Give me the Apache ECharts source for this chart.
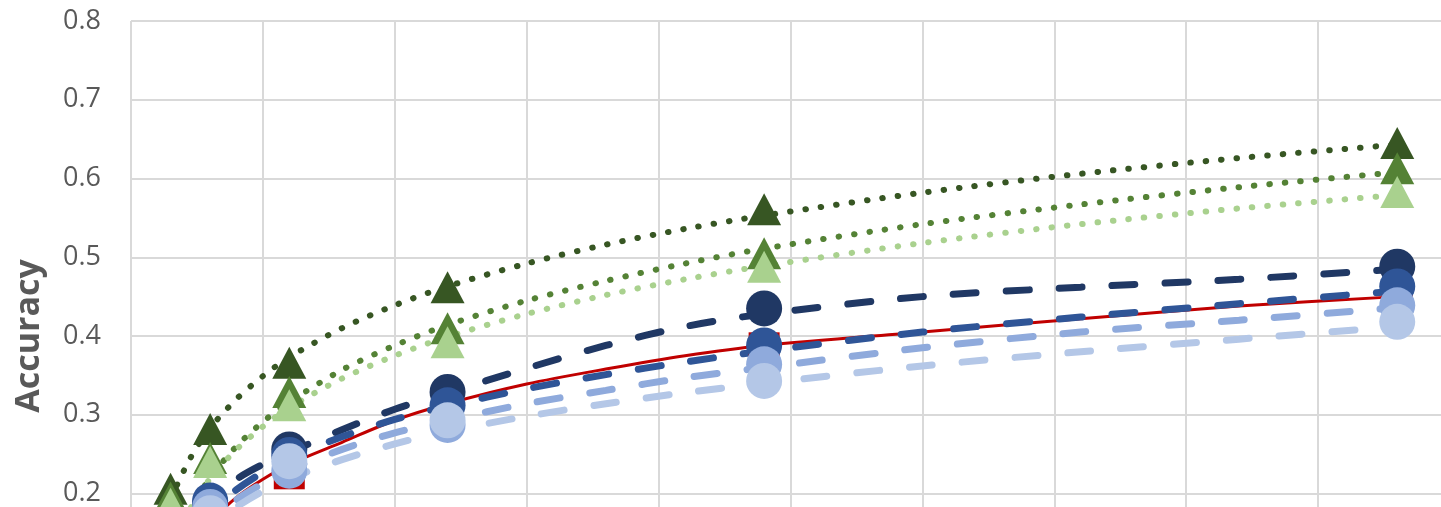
<!DOCTYPE html>
<html>
<head>
<meta charset="utf-8">
<script src="https://cdn.jsdelivr.net/npm/echarts@6/dist/echarts.min.js"></script>
<style>
  html, body { margin: 0; padding: 0; background: #ffffff; }
  #chart { width: 1441px; height: 507px; }
</style>
</head>
<body>
<div id="chart"></div>
<script>
// Measured points (x positions shared by every series)
const xValues = [0.3, 0.6, 1.2, 2.4, 4.8, 9.6];

const greenDark  = [0.206, 0.282, 0.366, 0.462, 0.561, 0.645];
const greenMid   = [0.195, 0.245, 0.329, 0.410, 0.505, 0.613];
const greenLight = [0.187, 0.240, 0.312, 0.392, 0.488, 0.583];
const blueNavy   = [0.150, 0.188, 0.256, 0.329, 0.435, 0.488];
const blueMid    = [0.140, 0.191, 0.249, 0.312, 0.388, 0.463];
const blueLight  = [0.130, 0.183, 0.229, 0.287, 0.364, 0.439];
const bluePale   = [0.125, 0.175, 0.241, 0.293, 0.343, 0.418];
const redSeries  = [0.100, 0.160, 0.225, 0.310, 0.385, 0.450];

// Trend curves, sampled at these x positions
const trendX = [0.3, 0.45, 0.6, 0.8, 1.0, 1.2, 1.6, 2.0, 2.4, 3.0, 3.6, 4.2, 4.8, 6.0, 7.2, 8.4, 9.6];

const trendGreenDark  = [0.193, 0.245, 0.283, 0.320, 0.349, 0.373, 0.410, 0.439, 0.463, 0.492, 0.516, 0.536, 0.553, 0.582, 0.606, 0.626, 0.643];
const trendGreenMid   = [0.122, 0.179, 0.220, 0.260, 0.291, 0.316, 0.357, 0.388, 0.414, 0.445, 0.470, 0.492, 0.511, 0.542, 0.567, 0.589, 0.608];
const trendGreenLight = [0.129, 0.181, 0.219, 0.256, 0.285, 0.309, 0.346, 0.375, 0.399, 0.428, 0.452, 0.472, 0.489, 0.518, 0.542, 0.562, 0.579];
const trendBlueNavy   = [0.120, 0.160, 0.190, 0.218, 0.237, 0.252, 0.281, 0.307, 0.328, 0.359, 0.388, 0.412, 0.428, 0.450, 0.462, 0.472, 0.485];
const trendBlueMid    = [0.100, 0.145, 0.178, 0.205, 0.227, 0.245, 0.272, 0.294, 0.311, 0.333, 0.351, 0.367, 0.381, 0.405, 0.424, 0.441, 0.457];
const trendBlueLight  = [0.090, 0.135, 0.165, 0.192, 0.213, 0.230, 0.256, 0.277, 0.293, 0.314, 0.331, 0.347, 0.360, 0.385, 0.405, 0.420, 0.436];
const trendBluePale   = [0.085, 0.130, 0.158, 0.183, 0.203, 0.219, 0.243, 0.263, 0.279, 0.298, 0.314, 0.328, 0.340, 0.362, 0.380, 0.396, 0.412];
const trendRed        = [0.090, 0.130, 0.163, 0.195, 0.218, 0.237, 0.265, 0.293, 0.314, 0.339, 0.358, 0.375, 0.388, 0.405, 0.422, 0.438, 0.450];

const yTicks = [0, 0.1, 0.2, 0.3, 0.4, 0.5, 0.6, 0.7, 0.8];

const pairs = (xs, ys) => xs.map((x, i) => [x, ys[i]]);

const C = {
  greenDark: '#375623', greenMid: '#548235', greenLight: '#A9D18E',
  blueNavy: '#203864', blueMid: '#2F5597', blueLight: '#8FAADC', bluePale: '#B4C7E7',
  red: '#C00000'
};

function trend(name, ys, color, kind) {
  let lineStyle;
  if (kind === 'dot') {
    lineStyle = { color, width: 6, type: [0.5, 15], cap: 'round' };
  } else if (kind === 'dash') {
    lineStyle = { color, width: 7, type: [23, 30], cap: 'round' };
  } else {
    lineStyle = { color, width: 3, type: 'solid' };
  }
  return {
    name: name + ' trend', type: 'line', data: pairs(trendX, ys),
    smooth: 0.3, showSymbol: false, symbol: 'none', clip: false,
    lineStyle, z: 2, silent: true
  };
}

function marks(name, ys, color, symbol, size) {
  return {
    name, type: 'scatter', data: pairs(xValues, ys), clip: false,
    symbol, symbolSize: size, itemStyle: { color, opacity: 1 }, z: 3
  };
}

const tri = [34, 32];
const dot = 36;
const sq = 31;

const chart = echarts.init(document.getElementById('chart'), null, { renderer: 'canvas' });
chart.setOption({
  animation: false,
  backgroundColor: '#ffffff',
  grid: {
    left: 131, right: -9, top: 21, bottom: -144,
    containLabel: false, outerBoundsMode: 'none'
  },
  xAxis: {
    type: 'value', min: 0, max: 10, interval: 1,
    axisLine: { show: false }, axisTick: { show: false },
    axisLabel: { show: false },
    splitLine: { show: true, lineStyle: { color: '#D9D9D9', width: 2 } }
  },
  yAxis: {
    type: 'value', min: yTicks[0], max: yTicks[yTicks.length - 1], interval: 0.1,
    name: 'Accuracy', nameLocation: 'middle', nameGap: 85,
    nameTextStyle: { fontFamily: 'Open Sans', fontSize: 34, fontWeight: 'bold', color: '#595959' },
    axisLine: { show: false }, axisTick: { show: false },
    axisLabel: {
      margin: 30, fontFamily: 'Open Sans', fontSize: 27, color: '#595959',
      formatter: v => v.toFixed(1)
    },
    splitLine: { show: true, lineStyle: { color: '#D9D9D9', width: 2 } }
  },
  series: [
    trend('R', trendRed, C.red, 'solid'),
    trend('B1', trendBlueNavy, C.blueNavy, 'dash'),
    trend('B2', trendBlueMid, C.blueMid, 'dash'),
    trend('B3', trendBlueLight, C.blueLight, 'dash'),
    trend('B4', trendBluePale, C.bluePale, 'dash'),
    trend('G1', trendGreenDark, C.greenDark, 'dot'),
    trend('G2', trendGreenMid, C.greenMid, 'dot'),
    trend('G3', trendGreenLight, C.greenLight, 'dot'),
    marks('R', redSeries, C.red, 'rect', sq),
    marks('B1', blueNavy, C.blueNavy, 'circle', dot),
    marks('B2', blueMid, C.blueMid, 'circle', dot),
    marks('B3', blueLight, C.blueLight, 'circle', dot),
    marks('B4', bluePale, C.bluePale, 'circle', dot),
    marks('G1', greenDark, C.greenDark, 'triangle', tri),
    marks('G2', greenMid, C.greenMid, 'triangle', tri),
    marks('G3', greenLight, C.greenLight, 'triangle', tri)
  ]
});
</script>
</body>
</html>
